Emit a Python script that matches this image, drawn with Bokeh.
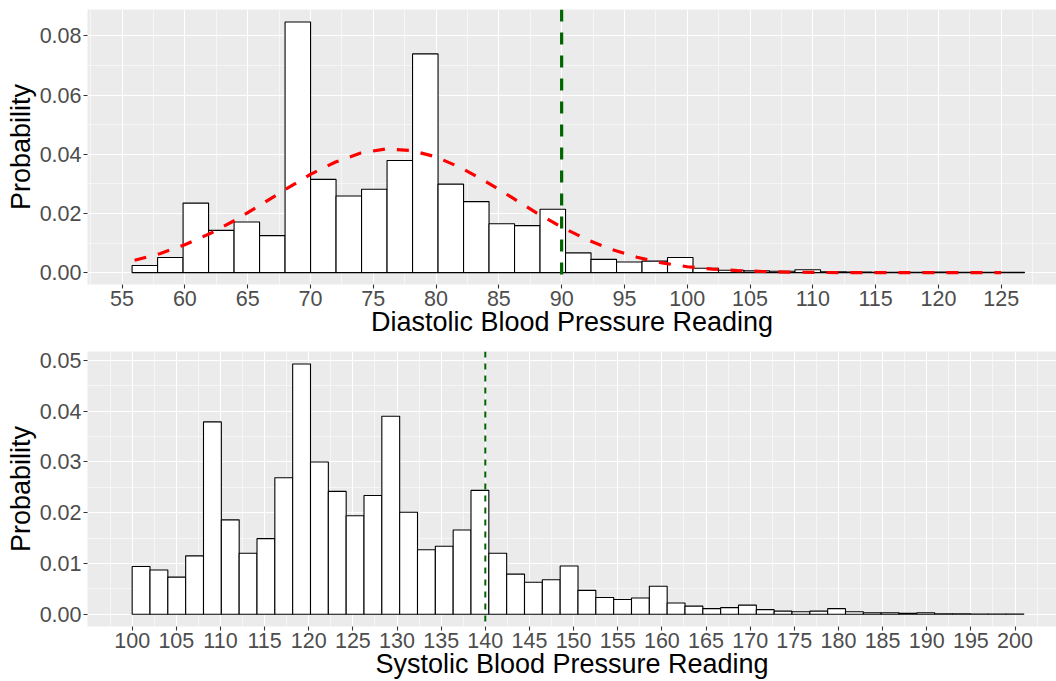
from bokeh.plotting import figure
from bokeh.models import ColumnDataSource, FixedTicker, PrintfTickFormatter, Span, Range1d
from bokeh.layouts import column
from bokeh.embed import file_html
from bokeh.resources import INLINE

# ---------------- data ----------------
# Diastolic histogram (density per bin), 35 bins
dia_bin_start = 55.8
dia_bin_width = 2.03
dia_density = [0.0024, 0.0051, 0.0235, 0.0143, 0.0171, 0.0125, 0.0847, 0.0315, 0.0259,
               0.0282, 0.0379, 0.0739, 0.0299, 0.0240, 0.0165, 0.0159, 0.0214, 0.0067,
               0.0045, 0.0036, 0.0039, 0.0051, 0.0015, 0.0008, 0.0006, 0.0005, 0.0010,
               0.0003, 0.0002, 0.0001, 0.0001, 0.0002, 0.0001, 0.0001, 0.0001]
# fitted normal curve
dia_curve_x = [56, 58, 60, 62, 64, 66, 68, 70, 72, 74, 76, 78, 80, 82, 84, 86, 88, 90,
               92, 94, 96, 98, 100, 102, 104, 106, 108, 110, 112, 114, 116, 118, 120,
               122, 124, 125]
dia_curve_y = [0.0042, 0.0064, 0.0094, 0.0132, 0.0177, 0.0228, 0.0281, 0.0332, 0.0374,
               0.0404, 0.0418, 0.0413, 0.0391, 0.0354, 0.0307, 0.0255, 0.0202, 0.0154,
               0.0112, 0.0078, 0.0052, 0.0033, 0.0020, 0.0012, 0.0007, 0.0004, 0.0002,
               0.0001, 0.0, 0.0, 0.0, 0.0, 0.0, 0.0, 0.0, 0.0]
dia_threshold = 90
dia_x_ticks = [55, 60, 65, 70, 75, 80, 85, 90, 95, 100, 105, 110, 115, 120, 125]
dia_y_ticks = [0.0, 0.02, 0.04, 0.06, 0.08]

# Systolic histogram (density per bin), 50 bins
sys_bin_start = 100.0
sys_bin_width = 2.02
sys_density = [0.0094, 0.0087, 0.0073, 0.0115, 0.0379, 0.0186, 0.0120, 0.0149, 0.0269,
               0.0493, 0.0300, 0.0242, 0.0194, 0.0234, 0.0390, 0.0201, 0.0127, 0.0134,
               0.0166, 0.0244, 0.0120, 0.0079, 0.0063, 0.0068, 0.0095, 0.0047, 0.0033,
               0.0029, 0.0032, 0.0055, 0.0022, 0.0016, 0.0011, 0.0013, 0.0018, 0.0009,
               0.0006, 0.0005, 0.0006, 0.0011, 0.0005, 0.0003, 0.0003, 0.0002, 0.0003,
               0.0001, 0.0001, 0.00005, 0.00005, 0.00005]
sys_threshold = 140
sys_x_ticks = [100, 105, 110, 115, 120, 125, 130, 135, 140, 145, 150, 155, 160, 165, 170,
               175, 180, 185, 190, 195, 200]
sys_y_ticks = [0.0, 0.01, 0.02, 0.03, 0.04, 0.05]

FONT = "Liberation Sans"


def minor_between(ticks, lo, hi):
    step = ticks[1] - ticks[0]
    out = []
    t = ticks[0] - step / 2
    while t > lo:
        out.append(t)
        t -= step
    t = ticks[0] + step / 2
    while t < hi:
        out.append(t)
        t += step
    return sorted(out)


def make_fig(height, b_top, b_bottom, xr, yr, xticks, yticks, xlabel):
    p = figure(width=1056, height=height, output_backend="svg", toolbar_location=None,
               x_range=Range1d(*xr), y_range=Range1d(*yr),
               min_border_left=87, min_border_right=0,
               min_border_top=b_top, min_border_bottom=b_bottom,
               background_fill_color="#EBEBEB", border_fill_color="white",
               outline_line_color=None)
    xt = FixedTicker(ticks=xticks, minor_ticks=minor_between(xticks, xr[0], xr[1]))
    yt = FixedTicker(ticks=yticks, minor_ticks=minor_between(yticks, yr[0], yr[1]))
    p.xaxis.ticker = xt
    p.yaxis.ticker = yt
    p.xgrid.ticker = xt
    p.ygrid.ticker = yt
    p.yaxis.formatter = PrintfTickFormatter(format="%.2f")
    for g in (p.xgrid, p.ygrid):
        g.grid_line_color = "white"
        g.grid_line_width = 1.1
        g.minor_grid_line_color = "white"
        g.minor_grid_line_width = 0.55
    for ax in (p.xaxis[0], p.yaxis[0]):
        ax.axis_line_color = None
        ax.major_tick_line_color = "#333333"
        ax.major_tick_line_width = 1.1
        ax.major_tick_in = 0
        ax.major_tick_out = 4
        ax.minor_tick_line_color = None
        ax.major_label_text_font = FONT
        ax.major_label_text_font_size = "21.5px"
        ax.major_label_text_color = "#4D4D4D"
        ax.major_label_standoff = 2
        ax.axis_label_text_font = FONT
        ax.axis_label_text_font_size = "27px"
        ax.axis_label_text_font_style = "normal"
        ax.axis_label_text_color = "black"
    p.xaxis.axis_label = xlabel
    p.yaxis.axis_label = "Probability"
    p.xaxis.axis_label_standoff = -2
    p.yaxis.axis_label_standoff = 1
    return p


def hist_source(start, width, dens):
    left = [start + i * width for i in range(len(dens))]
    right = [l + width for l in left]
    return ColumnDataSource(dict(left=left, right=right, top=dens, bottom=[0.0] * len(dens)))


# ---------------- top: diastolic ----------------
p1 = make_fig(340, 9, 56, (52.25, 129.4), (-0.0040, 0.0889),
              dia_x_ticks, dia_y_ticks, "Diastolic Blood Pressure Reading")
p1.quad(left="left", right="right", top="top", bottom="bottom",
        source=hist_source(dia_bin_start, dia_bin_width, dia_density),
        fill_color="white", line_color="black", line_width=1.1)
p1.line(dia_curve_x, dia_curve_y, line_color="red", line_width=3.2, line_dash="12 12")
p1.add_layout(Span(location=dia_threshold, dimension="height", line_color="#006400",
                   line_width=3.2, line_dash="12 11"))

# ---------------- bottom: systolic ----------------
p2 = make_fig(341, 11, 55, (94.94, 204.7), (-0.00242, 0.05177),
              sys_x_ticks, sys_y_ticks, "Systolic Blood Pressure Reading")
p2.quad(left="left", right="right", top="top", bottom="bottom",
        source=hist_source(sys_bin_start, sys_bin_width, sys_density),
        fill_color="white", line_color="black", line_width=1.1)
p2.add_layout(Span(location=sys_threshold, dimension="height", line_color="#006400",
                   line_width=2, line_dash="6 6"))

layout = column(p1, p2, spacing=0)
open("out.html", "w").write(file_html(layout, INLINE))
